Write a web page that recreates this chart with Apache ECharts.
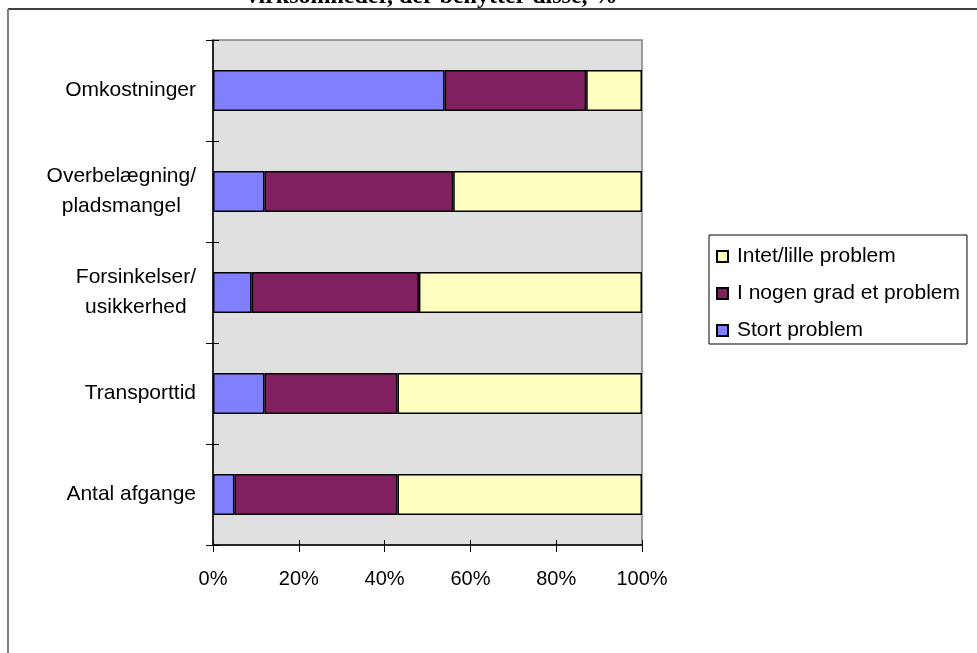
<!DOCTYPE html>
<html>
<head>
<meta charset="utf-8">
<title>Problemer ved transport</title>
<script src="https://cdn.jsdelivr.net/npm/echarts@6/dist/echarts.min.js"></script>
<style>
  html, body { margin: 0; padding: 0; background: #ffffff; }
  #chart { width: 977px; height: 653px; }
</style>
</head>
<body>
<div id="chart"></div>
<script>
// Categories, top to bottom
const categories = [
  'Omkostninger',
  'Overbelægning/\npladsmangel',
  'Forsinkelser/\nusikkerhed',
  'Transporttid',
  'Antal afgange'
];

// Share of companies (%) per answer
const stortProblem = [54, 12, 9, 12, 5];
const iNogenGrad   = [33, 44, 39, 31, 38];
const intetLille   = [13, 44, 52, 57, 57];

const seriesNames = ['Stort problem', 'I nogen grad et problem', 'Intet/lille problem'];
const legendOrder = ['Intet/lille problem', 'I nogen grad et problem', 'Stort problem'];
const xTicks = [0, 20, 40, 60, 80, 100];

const FONT = '"Liberation Sans", Arial, sans-serif';
const AXIS_SIZE = 20;
const CAT_SIZE = 21;
const LEGEND_SIZE = 21;

const chart = echarts.init(document.getElementById('chart'), null, { renderer: 'canvas' });

function barSeries(name, data, color) {
  return {
    name: name,
    type: 'bar',
    stack: 'total',
    data: data,
    barWidth: 41,
    xAxisIndex: 0,
    yAxisIndex: 0,
    itemStyle: { color: color, borderColor: '#000000', borderWidth: 1.5 },
    emphasis: { disabled: true }
  };
}

const grid = { left: 213, top: 40, width: 429, height: 505,
  show: true, backgroundColor: '#e0e0e0', borderColor: '#808080', borderWidth: 1.5 };

chart.setOption({
  animation: false,
  backgroundColor: '#ffffff',
  textStyle: { fontFamily: FONT },
  grid: grid,
  legend: {
    orient: 'vertical',
    left: 709,
    top: 235,
    data: legendOrder,
    itemWidth: 11,
    itemHeight: 11,
    itemGap: 16,
    padding: [11, 7, 3, 7],
    backgroundColor: '#ffffff',
    borderColor: '#000000',
    borderWidth: 1,
    borderRadius: 0,
    icon: 'rect',
    selectedMode: false,
    textStyle: { fontFamily: FONT, fontSize: LEGEND_SIZE, color: '#000000', padding: [0, 0, 0, 4] }
  },
  xAxis: [
    {
      type: 'value',
      min: 0, max: 100, interval: 20,
      position: 'bottom',
      axisLine: { show: true, lineStyle: { color: '#000000', width: 1.5 } },
      axisTick: { show: true, length: 7, lineStyle: { color: '#000000', width: 1 } },
      splitLine: { show: false },
      axisLabel: {
        margin: 24,
        fontFamily: FONT, fontSize: AXIS_SIZE, color: '#000000',
        formatter: function (v) { return xTicks.indexOf(v) >= 0 ? v + '%' : ''; }
      }
    },
    {
      type: 'value',
      min: 0, max: 100, interval: 20,
      position: 'bottom',
      axisLine: { show: false },
      axisTick: { show: true, inside: true, length: 5, lineStyle: { color: '#000000', width: 1 } },
      splitLine: { show: false },
      axisLabel: { show: false }
    }
  ],
  yAxis: [
    {
      type: 'category',
      data: categories,
      inverse: true,
      axisLine: { show: true, lineStyle: { color: '#000000', width: 1.5 } },
      axisTick: { show: true, length: 7, lineStyle: { color: '#000000', width: 1 } },
      splitLine: { show: false },
      axisLabel: {
        margin: 17,
        fontFamily: FONT, fontSize: CAT_SIZE, color: '#000000',
        formatter: function (v) {
          return v.split('\n').map(function (l) { return '{c|' + l + '}'; }).join('\n');
        },
        rich: {
          c: { align: 'center', fontFamily: FONT, fontSize: CAT_SIZE, lineHeight: 30, color: '#000000' }
        }
      }
    },
    {
      type: 'category',
      data: categories,
      inverse: true,
      position: 'left',
      axisLine: { show: false },
      axisTick: { show: true, inside: true, length: 6, lineStyle: { color: '#000000', width: 1 } },
      splitLine: { show: false },
      axisLabel: { show: false }
    }
  ],
  series: [
    barSeries(seriesNames[0], stortProblem, '#8080ff'),
    barSeries(seriesNames[1], iNogenGrad, '#802060'),
    barSeries(seriesNames[2], intetLille, '#ffffc0')
  ],
  graphic: [
    {
      type: 'text',
      x: 432, y: 9,
      style: {
        text: 'virksomheder, der benytter disse, %',
        textAlign: 'center',
        textVerticalAlign: 'bottom',
        font: 'bold 24px "Liberation Serif", "Times New Roman", serif',
        fill: '#000000'
      }
    },
    {
      type: 'line',
      shape: { x1: 8, y1: 9, x2: 977, y2: 9 },
      style: { stroke: '#000000', lineWidth: 1.5 }
    },
    {
      type: 'line',
      shape: { x1: 8, y1: 9, x2: 8, y2: 653 },
      style: { stroke: '#808080', lineWidth: 2 }
    }
  ]
});
</script>
</body>
</html>
